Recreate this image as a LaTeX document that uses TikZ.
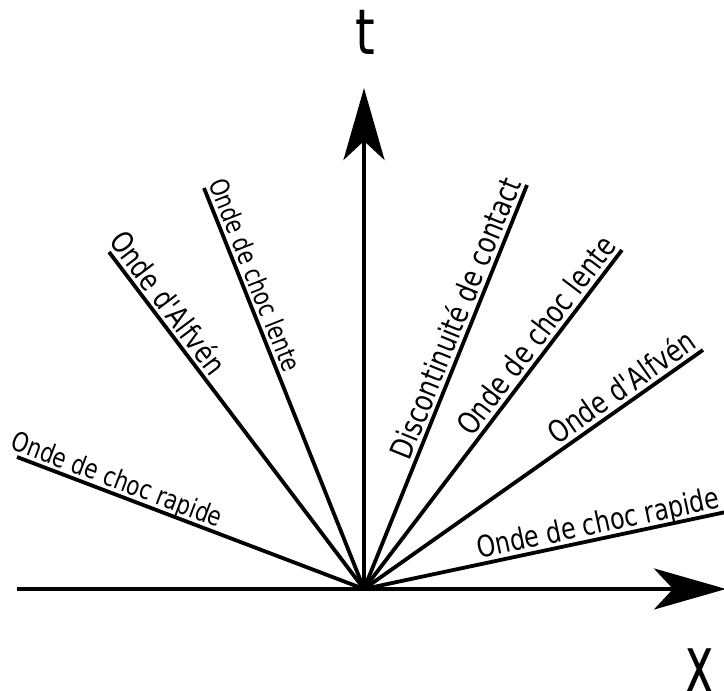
\documentclass[tikz,border=0pt]{standalone}
\usepackage{fontspec}
\setmainfont{DejaVu Sans}
\newfontfamily\cond[FakeStretch=0.8]{DejaVu Sans}
\usetikzlibrary{arrows.meta}
\tikzset{
  wave/.style={line width=3.8pt},
  axis/.style={line width=3.8pt, -{Stealth[length=72pt,width=41pt,inset=19pt]}},
  lab/.style={inner sep=0pt, transform shape},
}
\newcommand\lab[2]{\resizebox{#1pt}{!}{\cond #2}}
\begin{document}
\begin{tikzpicture}[x=1pt,y=1pt]
\useasboundingbox (0,0) rectangle (724,691);
\coordinate (O) at (364,102);
\coordinate (xs) at (17,102);
\coordinate (xe) at (726,102);
\coordinate (te) at (364,603);
\coordinate (A) at (17,234);
\coordinate (B) at (109,439);
\coordinate (C) at (204,503);
\coordinate (D) at (527,506);
\coordinate (E) at (622,441);
\coordinate (F) at (703,341);
\coordinate (G) at (726,179);

\draw[axis] (xs) -- (xe);
\draw[axis] (O) -- (te);
\foreach \p in {A,B,C,D,E,F,G} \draw[wave] (O) -- (\p);

\node[anchor=base, inner sep=0pt] (tl) at (365,636) {\fontsize{63}{70}\selectfont\cond t};
\node[anchor=base, inner sep=0pt] (xl) at (700,-2) {\scalebox{0.6}[1]{\fontsize{80}{90}\selectfont x}};

\begin{scope}[shift={(A)}, rotate=-20.83]
  \node[lab, anchor=base west] (lA) at (-10,5.5) {\lab{223}{Onde de choc rapide}};
\end{scope}
\begin{scope}[shift={(B)}, rotate=-52.88]
  \node[lab, anchor=base west] (lB) at (-9,5.5) {\lab{170}{Onde d'Alfvén}};
\end{scope}
\begin{scope}[shift={(C)}, rotate=-68.25]
  \node[lab, anchor=base west] (lC) at (-3,5.5) {\lab{205}{Onde de choc lente}};
\end{scope}
\begin{scope}[shift={(D)}, rotate=68.03]
  \node[lab, anchor=base east] (lD) at (0,5.5) {\lab{300}{Discontinuité de contact}};
\end{scope}
\begin{scope}[shift={(E)}, rotate=52.73]
  \node[lab, anchor=base east] (lE) at (0,5.5) {\lab{240}{Onde de choc lente}};
\end{scope}
\begin{scope}[shift={(F)}, rotate=35.19]
  \node[lab, anchor=base east] (lF) at (-2,5.5) {\lab{172}{Onde d'Alfvén}};
\end{scope}
\begin{scope}[shift={(G)}, rotate=12.01]
  \node[lab, anchor=base east] (lG) at (-4,5.5) {\lab{247}{Onde de choc rapide}};
\end{scope}
\end{tikzpicture}
\end{document}
